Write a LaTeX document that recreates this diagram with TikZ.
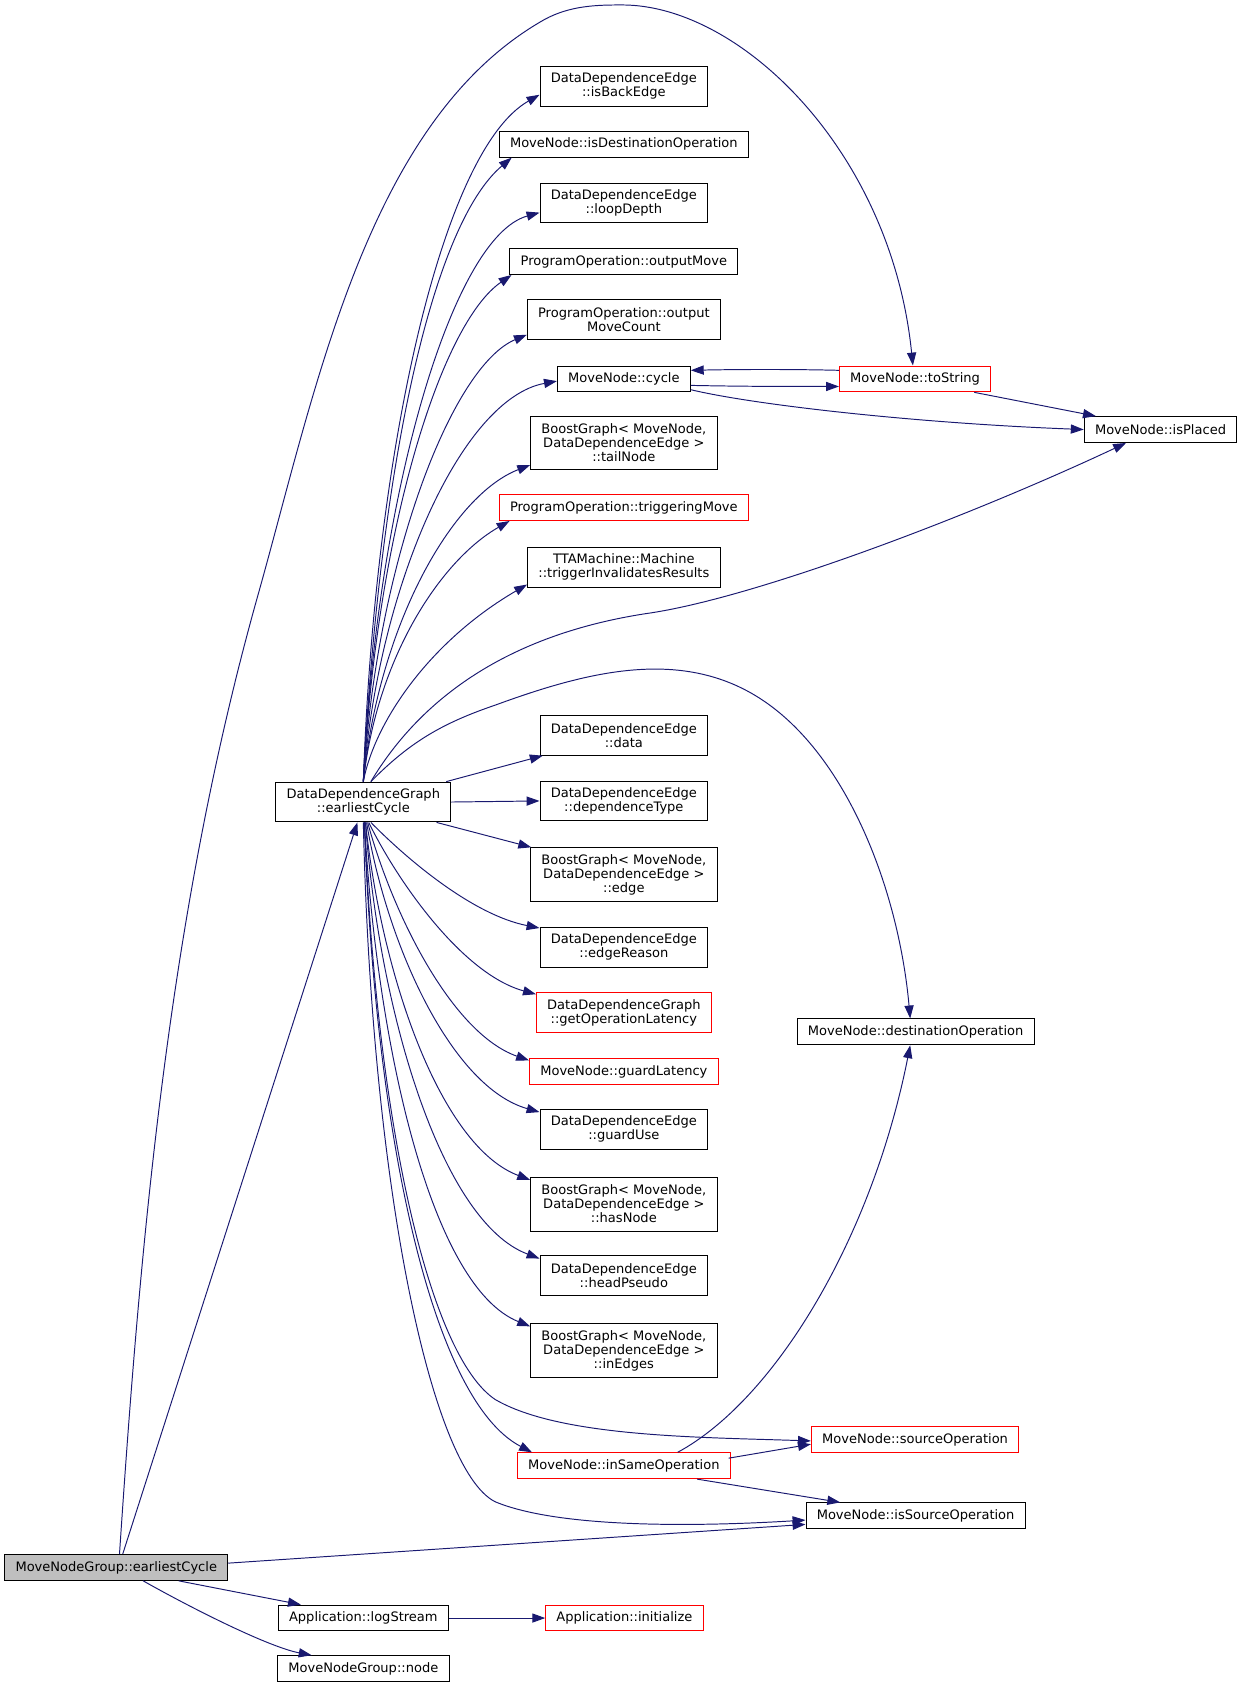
\documentclass[tikz,border=0pt]{standalone}
\usepackage{fontspec}
\setmainfont{DejaVu Sans}
\usetikzlibrary{arrows.meta}
\definecolor{edgeblue}{HTML}{191970}
\newcommand{\fnfont}{\fontsize{12.1}{13}\selectfont}
\tikzset{
fn/.style={draw=black, line width=0.9pt, inner xsep=10pt, inner ysep=0pt, minimum height=24pt, align=center, font=\fnfont},
fnred/.style={fn, draw=red},
fncur/.style={fn, fill=gray!50},
two/.style={minimum height=37pt},
three/.style={minimum height=50pt},
call/.style={draw=edgeblue, line width=0.9pt, -{Triangle[length=12pt,width=8.5pt]}}
}

\begin{document}
\begin{tikzpicture}[x=1pt,y=-1pt]
   \useasboundingbox (0,0) rectangle (1155,1568);
   % left column
   \node[fncur] (mngec) at (108,1456) {MoveNodeGroup::earliestCycle};
   \node[fn,two] (ddgec) at (337.5,745) {DataDependenceGraph\\::earliestCycle};
   \node[fn] (logst) at (337.5,1503) {Application::logStream};
   \node[fn] (mngnode) at (337.5,1550) {MoveNodeGroup::node};
   % middle column
   \node[fn,two] (isback) at (579.5,80) {DataDependenceEdge\\::isBackEdge};
   \node[fn] (isdest) at (579.5,134) {MoveNode::isDestinationOperation};
   \node[fn,two] (loopd) at (579.5,188.5) {DataDependenceEdge\\::loopDepth};
   \node[fn] (outmv) at (579.5,243) {ProgramOperation::outputMove};
   \node[fn,two] (outmvc) at (579.5,297) {ProgramOperation::output\\MoveCount};
   \node[fn] (cycle) at (579.5,352) {MoveNode::cycle};
   \node[fn,three] (tailn) at (579.5,411.5) {BoostGraph< MoveNode,\\DataDependenceEdge >\\::tailNode};
   \node[fnred] (trigmv) at (579.5,471.5) {ProgramOperation::triggeringMove};
   \node[fn,two] (triginv) at (579.5,527) {TTAMachine::Machine\\::triggerInvalidatesResults};
   \node[fn,two] (data) at (579.5,683) {DataDependenceEdge\\::data};
   \node[fn,two] (deptype) at (579.5,744) {DataDependenceEdge\\::dependenceType};
   \node[fn,three] (edge) at (579.5,812.5) {BoostGraph< MoveNode,\\DataDependenceEdge >\\::edge};
   \node[fn,two] (edgereason) at (579.5,880) {DataDependenceEdge\\::edgeReason};
   \node[fnred,two] (getlat) at (579.5,940.5) {DataDependenceGraph\\::getOperationLatency};
   \node[fnred] (guardlat) at (579.5,995.5) {MoveNode::guardLatency};
   \node[fn,two] (guarduse) at (579.5,1049) {DataDependenceEdge\\::guardUse};
   \node[fn,three] (hasnode) at (579.5,1118.5) {BoostGraph< MoveNode,\\DataDependenceEdge >\\::hasNode};
   \node[fn,two] (headps) at (579.5,1185) {DataDependenceEdge\\::headPseudo};
   \node[fn,three] (inedges) at (579.5,1254.5) {BoostGraph< MoveNode,\\DataDependenceEdge >\\::inEdges};
   \node[fnred] (insame) at (579.5,1361.5) {MoveNode::inSameOperation};
   \node[fnred] (appinit) at (580,1503) {Application::initialize};
   % right column
   \node[fnred] (tostr) at (850,352) {MoveNode::toString};
   \node[fn] (isplaced) at (1078,399) {MoveNode::isPlaced};
   \node[fn] (destop) at (850.5,958.5) {MoveNode::destinationOperation};
   \node[fnred] (srcop) at (850,1337.5) {MoveNode::sourceOperation};
   \node[fn] (issrcop) at (850.5,1408) {MoveNode::isSourceOperation};

   % calls of the caller
   \draw[call] ([xshift=3pt]mngec.north) .. controls (131,1143) and (158,844) .. (239,555)
      .. controls (294,360) and (341,111) .. (506,18)
      .. controls (530,5) and (555,4.6) .. (578,4.6)
      .. controls (688,4.6) and (828,141) .. ([xshift=-2pt]tostr.north);
   \draw[call] ([xshift=6pt]mngec.north) -- ([xshift=-5.5pt]ddgec.south);
   \draw[call] ([yshift=4pt]mngec.east) -- ([yshift=-8pt]issrcop.west);
   \draw[call] ([xshift=58pt]mngec.south) -- ([xshift=-58pt]logst.north);
   \draw[call] ([xshift=25pt]mngec.south) .. controls (180,1495) and (250,1530) .. ([xshift=-48pt]mngnode.north);
   \draw[call] (logst) -- (appinit);

   % fan upwards
   \draw[call] (ddgec.north) .. controls (348,420) and (410,140) .. ([yshift=-8pt]isback.west);
   \draw[call] (ddgec.north) .. controls (352,440) and (400,210) .. ([xshift=12pt]isdest.south west);
   \draw[call] (ddgec.north) .. controls (350,460) and (420,220) .. ([yshift=-9pt]loopd.west);
   \draw[call] (ddgec.north) .. controls (350,490) and (410,300) .. ([xshift=2pt]outmv.south west);
   \draw[call] (ddgec.north) .. controls (350,520) and (420,340) .. ([yshift=5pt]outmvc.south west);
   \draw[call] (ddgec.north) .. controls (352,540) and (430,370) .. ([yshift=-2pt]cycle.west);
   \draw[call] (ddgec.north) .. controls (352,580) and (420,460) .. ([yshift=5pt]tailn.south west);
   \draw[call] (ddgec.north) .. controls (350,610) and (410,520) .. ([xshift=10pt]trigmv.south west);
   \draw[call] (ddgec.north) .. controls (348,670) and (400,595) .. ([yshift=3pt]triginv.south west);
   \draw[call] ([xshift=7pt]ddgec.north) .. controls (390,650) and (470,590) .. (600,570)
      .. controls (700,556) and (900,480) .. ([xshift=-32pt]isplaced.south);
   \draw[call] ([xshift=7pt]ddgec.north) .. controls (380,690) and (410,672) .. (460,655)
      .. controls (550,622) and (640,600) .. (715,655)
      .. controls (790,710) and (835,830) .. ([xshift=-5pt]destop.north);

   % straight calls
   \draw[call] ([xshift=77pt]ddgec.north) -- ([xshift=3pt]data.south west);
   \draw[call] (ddgec.east) -- (deptype.west);
   \draw[call] ([xshift=68pt]ddgec.south) -- ([xshift=1pt]edge.north west);

   % fan downwards
   \draw[call] ([xshift=7pt]ddgec.south) .. controls (380,800) and (440,850) .. ([yshift=-1pt]edgereason.north west);
   \draw[call] ([xshift=5pt]ddgec.south) .. controls (370,820) and (430,905) .. ([yshift=-2pt]getlat.north west);
   \draw[call] ([xshift=4pt]ddgec.south) .. controls (365,850) and (420,960) .. ([yshift=-2pt]guardlat.north west);
   \draw[call] ([xshift=3pt]ddgec.south) .. controls (360,880) and (420,1010) .. ([yshift=-3pt]guarduse.north west);
   \draw[call] ([xshift=2pt]ddgec.south) .. controls (355,910) and (410,1065) .. ([yshift=-3pt]hasnode.north west);
   \draw[call] ([xshift=2pt]ddgec.south) .. controls (352,940) and (410,1135) .. ([yshift=-3pt]headps.north west);
   \draw[call] ([xshift=1pt]ddgec.south) .. controls (350,970) and (400,1195) .. ([yshift=-3pt]inedges.north west);
   \draw[call] ([xshift=1pt]ddgec.south) .. controls (348,1050) and (400,1300) .. ([xshift=14pt]insame.north west);
   \draw[call] ([xshift=1pt]ddgec.south) .. controls (350,1050) and (400,1260) .. (460,1300)
      .. controls (520,1335) and (650,1335) .. ([yshift=-1pt]srcop.west);
   \draw[call] (ddgec.south) .. controls (345,1100) and (400,1365) .. (460,1395)
      .. controls (520,1420) and (650,1418) .. ([yshift=-4pt]issrcop.west);

   % calls among the callees
   \draw[call] ([yshift=-6pt]cycle.east) .. controls (690,359) and (730,359) .. ([yshift=-7pt]tostr.west);
   \draw[call] ([yshift=8pt]tostr.west) .. controls (740,343) and (690,343) .. ([yshift=8pt]cycle.east);
   \draw[call] ([yshift=-10pt]cycle.east) .. controls (700,376) and (850,393) .. (isplaced.west);
   \draw[call] ([xshift=55pt]tostr.south) -- ([xshift=-60pt]isplaced.north);
   \draw[call] ([xshift=-2pt]insame.east) ++(0,-7) -- ([yshift=-4pt]srcop.west);
   \draw[call] ([xshift=68pt]insame.south) -- ([xshift=-70pt]issrcop.north);
   \draw[call] ([xshift=50pt]insame.north) .. controls (720,1300) and (810,1150) .. ([xshift=-5pt]destop.south);
\end{tikzpicture}
\end{document}
